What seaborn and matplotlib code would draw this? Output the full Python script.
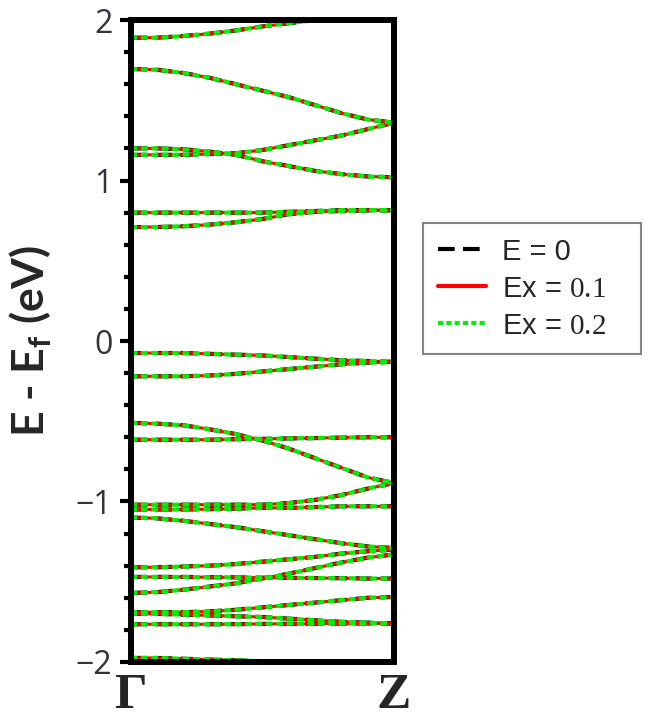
import numpy as np
import pandas as pd
import seaborn as sns
import matplotlib
matplotlib.use("Agg")
import matplotlib.pyplot as plt
from matplotlib.lines import Line2D
from matplotlib.ticker import MultipleLocator

sns.set_style("white")
plt.rcParams['font.family'] = ['Liberation Sans', 'DejaVu Sans']
plt.rcParams['mathtext.fontset'] = 'custom'
plt.rcParams['mathtext.rm'] = 'Liberation Serif'
plt.rcParams['mathtext.bf'] = 'Lato:bold'

# k-path positions (fraction of Gamma -> Z)
k_points = [0.0, 0.1, 0.2, 0.3, 0.4, 0.5, 0.6, 0.7, 0.8, 0.9, 1.0]

# band energies (eV) read at each k point
band_01 = [1.89, 1.89, 1.90, 1.915, 1.935, 1.96, 1.98, 2.00, 2.03, 2.05, 2.06]
band_02 = [1.695, 1.69, 1.67, 1.64, 1.60, 1.56, 1.52, 1.47, 1.42, 1.38, 1.36]
band_03 = [1.16, 1.16, 1.16, 1.165, 1.17, 1.19, 1.22, 1.25, 1.28, 1.32, 1.36]
band_04 = [1.20, 1.20, 1.195, 1.18, 1.16, 1.12, 1.09, 1.06, 1.04, 1.025, 1.02]
band_05 = [0.80, 0.80, 0.80, 0.80, 0.80, 0.80, 0.805, 0.81, 0.815, 0.815, 0.815]
band_06 = [0.71, 0.71, 0.715, 0.725, 0.74, 0.76, 0.79, 0.805, 0.81, 0.815, 0.815]
band_07 = [-0.075, -0.075, -0.075, -0.08, -0.085, -0.09, -0.10, -0.11, -0.12, -0.125, -0.13]
band_08 = [-0.22, -0.22, -0.22, -0.215, -0.205, -0.19, -0.175, -0.16, -0.145, -0.135, -0.13]
band_09 = [-0.51, -0.515, -0.525, -0.55, -0.58, -0.62, -0.67, -0.73, -0.79, -0.85, -0.885]
band_10 = [-0.615, -0.615, -0.615, -0.615, -0.612, -0.61, -0.607, -0.605, -0.602, -0.60, -0.60]
band_11 = [-1.02, -1.02, -1.02, -1.02, -1.02, -1.02, -1.01, -0.99, -0.96, -0.92, -0.885]
band_12 = [-1.05, -1.05, -1.05, -1.048, -1.045, -1.04, -1.04, -1.035, -1.03, -1.03, -1.03]
band_13 = [-1.10, -1.105, -1.12, -1.14, -1.16, -1.185, -1.21, -1.235, -1.26, -1.28, -1.29]
band_14 = [-1.41, -1.41, -1.405, -1.40, -1.39, -1.375, -1.36, -1.345, -1.325, -1.31, -1.30]
band_15 = [-1.47, -1.47, -1.47, -1.472, -1.473, -1.475, -1.476, -1.477, -1.478, -1.48, -1.48]
band_16 = [-1.57, -1.565, -1.55, -1.53, -1.51, -1.48, -1.45, -1.415, -1.38, -1.35, -1.33]
band_17 = [-1.69, -1.69, -1.69, -1.685, -1.675, -1.66, -1.645, -1.63, -1.615, -1.60, -1.595]
band_18 = [-1.70, -1.70, -1.705, -1.71, -1.715, -1.72, -1.73, -1.74, -1.75, -1.755, -1.76]
band_19 = [-1.765, -1.765, -1.765, -1.765, -1.764, -1.763, -1.762, -1.762, -1.761, -1.76, -1.76]
band_20 = [-1.975, -1.975, -1.98, -1.985, -1.99, -1.995, -2.01, -2.03, -2.05, -2.07, -2.08]

bands = [band_01, band_02, band_03, band_04, band_05, band_06, band_07, band_08,
         band_09, band_10, band_11, band_12, band_13, band_14, band_15, band_16,
         band_17, band_18, band_19, band_20]

series_labels = ["E = 0", "Ex = 0.1", "Ex = 0.2"]
legend_texts = ["E = 0", r"Ex = $\mathrm{0.1}$", r"Ex = $\mathrm{0.2}$"]
x_tick_labels = ["Γ", "Z"]
y_ticks = [-2, -1, 0, 1, 2]

rows = []
for s in series_labels:
    for bi, b in enumerate(bands):
        for k, e in zip(k_points, b):
            rows.append({"series": s, "band": bi, "k": k, "E": e})
df = pd.DataFrame(rows)

fig = plt.figure(figsize=(6.53, 7.23), dpi=100)
ax = fig.add_axes([0.1999, 0.0844, 0.4035, 0.8879])

styles = {
    "E = 0": dict(color="black", linewidth=3.0, linestyle=(0, (4, 2))),
    "Ex = 0.1": dict(color="#ff0000", linewidth=2.2, linestyle="-"),
    "Ex = 0.2": dict(color="#00ee00", linewidth=3.0, linestyle=(0, (1.6, 0.9))),
}
for s in series_labels:
    sub = df[df["series"] == s]
    sns.lineplot(data=sub, x="k", y="E", units="band", estimator=None,
                 ax=ax, legend=False, sort=False, **styles[s])

ax.set_xlim(0, 1)
ax.set_ylim(-2, 2)
ax.set_xticks([0, 1])
ax.set_xticklabels(x_tick_labels, fontsize=37, fontweight="bold",
                   family=["Liberation Serif", "DejaVu Serif"])
ax.set_yticks(y_ticks)
ax.set_yticklabels([("\u2212" + str(abs(v))) if v < 0 else str(v) for v in y_ticks],
                   fontsize=23, color="#333340", family=["Open Sans", "DejaVu Sans"])
ax.yaxis.set_minor_locator(MultipleLocator(0.2))
ax.tick_params(axis="y", which="major", direction="out", length=8, width=3,
               color="black", left=True, pad=5)
ax.tick_params(axis="y", which="minor", direction="out", length=5, width=3,
               color="black", left=True)
ax.tick_params(axis="x", which="major", length=0, pad=8)
for sp in ax.spines.values():
    sp.set_linewidth(4.3)
    sp.set_color("black")
ax.set_xlabel("")
ax.set_ylabel(r"E - E$_\mathbf{f}$ (eV)", fontsize=32, fontweight="bold",
              family=["Lato", "DejaVu Sans"], labelpad=16)

handles = [Line2D([], [], **styles[s]) for s in series_labels]
handles[1].set_linewidth(3.0)
handles[2].set_linestyle((0, (1.2, 0.8)))
leg = fig.legend(handles, legend_texts, loc="upper left",
                 bbox_to_anchor=(423 / 653, 1 - 357 / 723, 218 / 653, 134 / 723),
                 mode="expand", fontsize=21, frameon=True,
                 fancybox=False, edgecolor="#666666", handlelength=1.65,
                 labelspacing=0.31, borderpad=0.5, handletextpad=0.55,
                 borderaxespad=0.0)
leg.get_frame().set_linewidth(1.5)

fig.savefig("out.png", dpi=100)
